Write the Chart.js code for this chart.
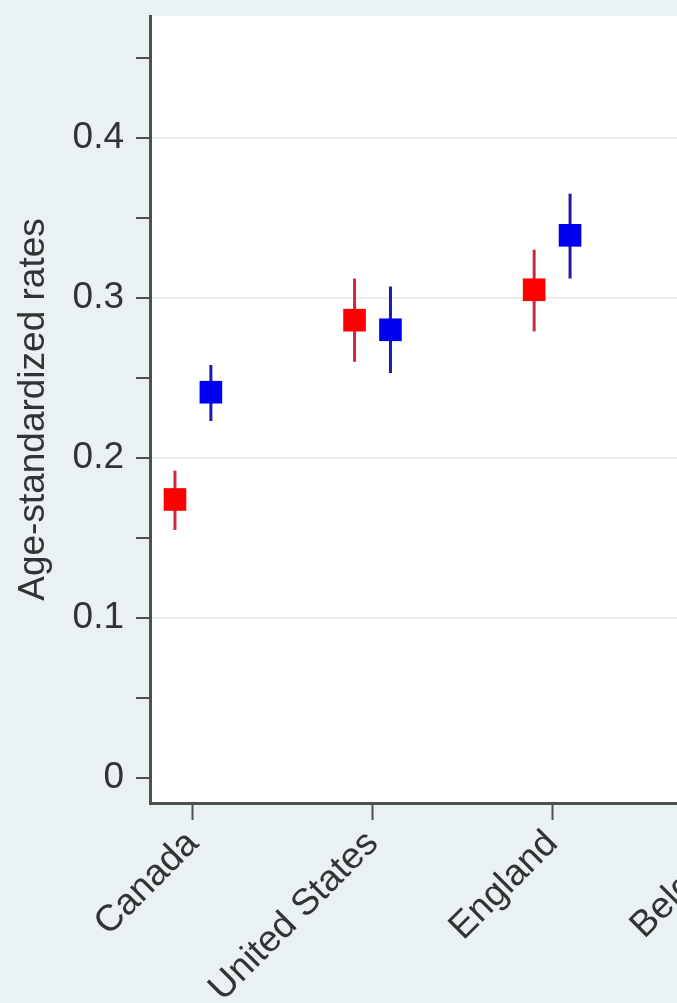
<!DOCTYPE html>
<html>
<head>
<meta charset="utf-8">
<script src="https://cdn.jsdelivr.net/npm/chart.js@4.4.0/dist/chart.umd.min.js"></script>
<style>
  html, body { margin: 0; padding: 0; overflow: hidden; background: #e9f1f3; }
  #wrap { position: absolute; left: 0; top: 0; width: 1000px; height: 1003px; }
</style>
</head>
<body>
<div id="wrap"><canvas id="chart"></canvas></div>
<script>
// datos
const countries = ['Canada', 'United States', 'England', 'Belgium'];
const redRate = [0.174, 0.286, 0.305];
const redLow = [0.155, 0.260, 0.279];
const redHigh = [0.192, 0.312, 0.330];
const blueRate = [0.241, 0.280, 0.339];
const blueLow = [0.223, 0.253, 0.312];
const blueHigh = [0.258, 0.307, 0.365];
const yTicks = [0, 0.05, 0.1, 0.15, 0.2, 0.25, 0.3, 0.35, 0.4, 0.45];
const yLabeled = [0, 0.1, 0.2, 0.3, 0.4];
const yGrid = [0.1, 0.2, 0.3, 0.4];

const RED = '#ff0000';
const BLUE = '#0000f0';
const RED_LINE = '#cc2a3a';
const BLUE_LINE = '#1c1ca8';
const AXIS = '#4f4f4f';
const TEXT = '#333333';
const FONT = { family: 'Liberation Sans, Arial', size: 37 };

const redX = redRate.map((v, i) => i + 1 - 0.1);
const blueX = blueRate.map((v, i) => i + 1 + 0.1);

function ciDatasets(xs, lows, highs, color) {
    return xs.map((x, i) => ({
        type: 'line',
        data: [{ x: x, y: lows[i] }, { x: x, y: highs[i] }],
        borderColor: color,
        borderWidth: 3,
        pointRadius: 0
    }));
}

// fondo blanco del area de trazado
const plotBg = {
    id: 'plotBg',
    beforeDraw(chart) {
        const a = chart.chartArea;
        const ctx = chart.ctx;
        ctx.save();
        ctx.fillStyle = '#ffffff';
        ctx.fillRect(a.left, a.top, a.right - a.left, a.bottom - a.top);
        ctx.restore();
    }
};

const ctx = document.getElementById('chart').getContext('2d');
new Chart(ctx, {
    type: 'scatter',
    data: {
        datasets: [
            {
                data: redX.map((x, i) => ({ x: x, y: redRate[i] })),
                pointStyle: 'rect',
                pointRadius: 16,
                backgroundColor: RED,
                borderWidth: 0
            },
            {
                data: blueX.map((x, i) => ({ x: x, y: blueRate[i] })),
                pointStyle: 'rect',
                pointRadius: 16,
                backgroundColor: BLUE,
                borderWidth: 0
            },
            ...ciDatasets(redX, redLow, redHigh, RED_LINE),
            ...ciDatasets(blueX, blueLow, blueHigh, BLUE_LINE)
        ]
    },
    options: {
        responsive: true,
        maintainAspectRatio: false,
        animation: false,
        layout: { padding: { top: 14, right: 0, left: 0, bottom: 0 } },
        plugins: {
            legend: { display: false },
            tooltip: { enabled: false }
        },
        scales: {
            x: {
                type: 'linear',
                min: 0.761,
                max: 5.405,
                afterBuildTicks: function(scale) {
                    scale.ticks = countries.map((c, i) => ({ value: i + 1 }));
                },
                afterFit: function(scale) {
                    scale.height = 200;
                    scale.paddingLeft = 0;
                    scale.paddingRight = 0;
                },
                border: { display: true, color: AXIS, width: 3 },
                grid: {
                    drawOnChartArea: false,
                    tickLength: 17,
                    tickColor: AXIS,
                    tickWidth: 2
                },
                ticks: {
                    autoSkip: false,
                    minRotation: 45,
                    maxRotation: 45,
                    padding: 2,
                    color: TEXT,
                    font: FONT,
                    callback: function(value) { return countries[value - 1] || ''; }
                }
            },
            y: {
                min: -0.0156,
                max: 0.476,
                afterBuildTicks: function(scale) {
                    scale.ticks = yTicks.map(v => ({ value: v }));
                },
                afterFit: function(scale) {
                    scale.width = 150;
                    scale.paddingTop = 0;
                    scale.paddingBottom = 0;
                },
                border: { display: true, color: AXIS, width: 3 },
                grid: {
                    color: function(c) {
                        return c.tick && yGrid.includes(c.tick.value) ? '#e8eff1' : 'rgba(0,0,0,0)';
                    },
                    lineWidth: 2,
                    tickLength: 14,
                    tickColor: AXIS,
                    tickWidth: 2
                },
                title: {
                    display: true,
                    text: 'Age-standardized rates',
                    color: TEXT,
                    font: FONT,
                    padding: { top: 12, bottom: 0 }
                },
                ticks: {
                    padding: 12,
                    color: TEXT,
                    font: FONT,
                    callback: function(value) {
                        return yLabeled.includes(value) ? String(value) : '';
                    }
                }
            }
        }
    },
    plugins: [plotBg]
});
</script>
</body>
</html>
